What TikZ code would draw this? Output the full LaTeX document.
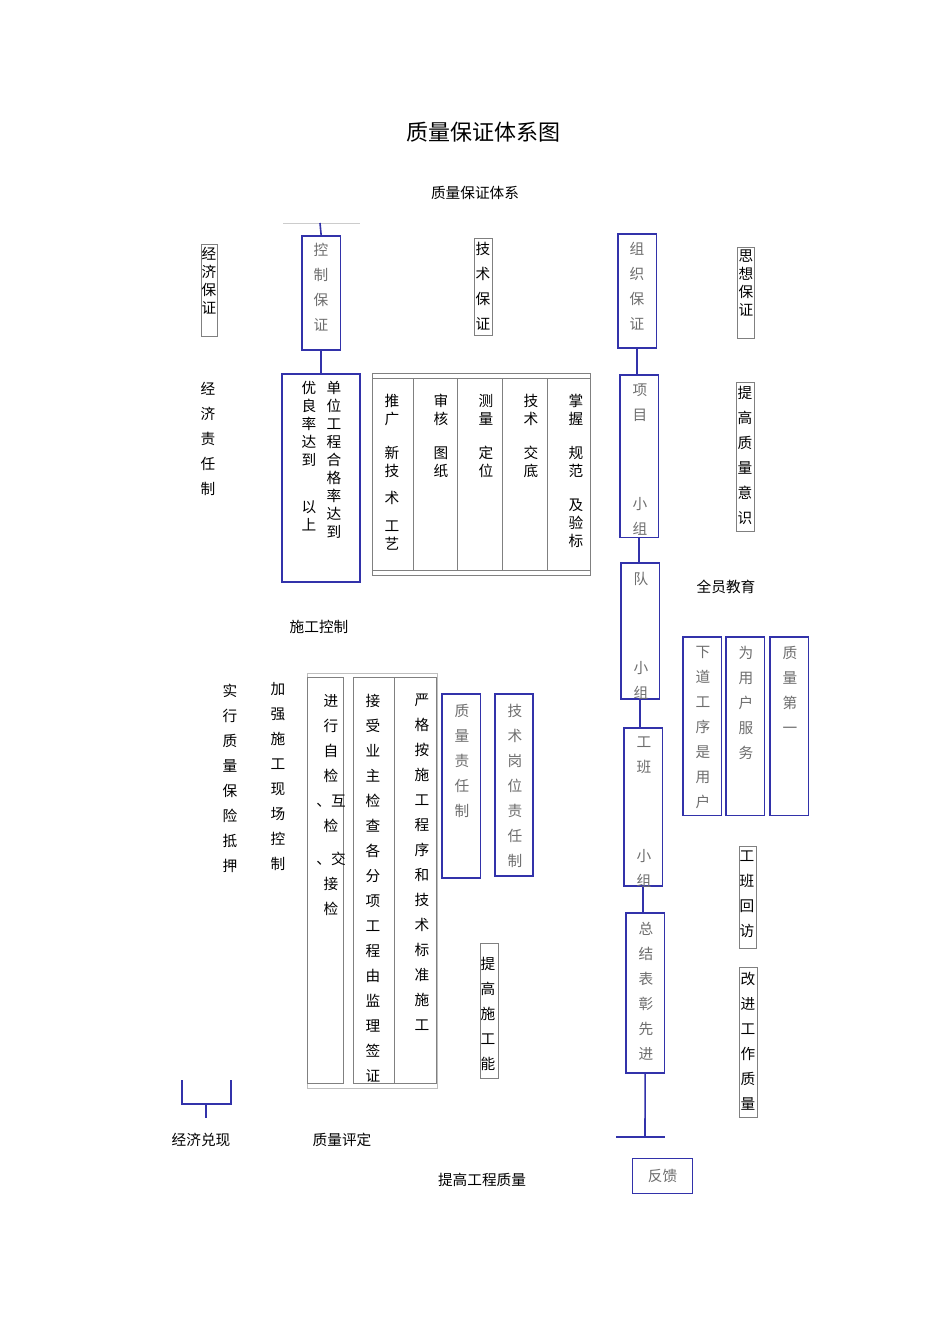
\documentclass[tikz,border=0pt]{standalone}
\usepackage{fontspec}
\setmainfont{Noto Sans CJK SC}
\definecolor{bl}{RGB}{50,50,170}
\definecolor{gt}{RGB}{110,110,110}
\begin{document}
\begin{tikzpicture}[x=0.75pt,y=-0.75pt,
  bbox/.style={draw=bl,line width=1.2pt,anchor=north west,inner sep=0pt},
  kbox/.style={draw=gray,line width=0.6pt,anchor=north west,inner sep=0pt},
  vt/.style={align=center,inner sep=0pt,anchor=north,font=\fontsize{11}{18.75}\selectfont},
  vtt/.style={align=center,inner sep=0pt,anchor=north,font=\fontsize{11}{13.5}\selectfont},
  gv/.style={vt,text=gt},
  lab/.style={inner sep=0pt,font=\fontsize{11}{13}\selectfont},
  ln/.style={draw=bl,line width=1.2pt}]
\fill[white] (0,0) rectangle (950,1344);
\node[lab,font=\fontsize{16.5}{20}\selectfont] (title) at (483,132) {质量保证体系图};
\node[lab] (sub) at (475,193) {质量保证体系};
% left top
\draw[gray!40,line width=0.5pt] (283,223) -- (360,223);
\coordinate (top) at (320,223);
\node[kbox,minimum width=16pt*0.75/0.75*0.75,minimum height=69pt] (jjbz) at (201,244) {};
\node[vtt] at (209,247) {经\\济\\保\\证};
\node[bbox,minimum width=29pt,minimum height=85.5pt] (kzbz) at (301,235) {};
\node[gv] at (321,243) {控\\制\\保\\证};
\draw[ln] (top) -- (kzbz.north);
\node[bbox,minimum width=58.5pt,minimum height=156pt] (dw) at (281,373) {};
\draw[ln] (kzbz.south) -- (dw.north -| kzbz.south);
\node[vtt] at (334,381) {单\\位\\工\\程\\合\\格\\率\\达\\到};
\node[vtt] at (309,381) {优\\良\\率\\达\\到\\[22pt]以\\上};
\node[kbox,minimum width=13.5pt,minimum height=73pt] (jsbz) at (474,238) {};
\node[vt] at (483,242) {技\\术\\保\\证};
% tech table
\node[kbox,minimum width=163.5pt,minimum height=151.5pt] (tt) at (372,373) {};
\draw[gray,line width=0.6pt] (372,378) -- (590,378) (372,570) -- (590,570);
\foreach \x in {413,457,502,547} \draw[gray,line width=0.6pt] (\x,378) -- (\x,570);
\node[vtt] at (392,394) {推\\广\\[12pt]新\\技\\[7pt]术\\[7pt]工\\艺};
\node[vtt] at (441,394) {审\\核\\[12pt]图\\纸};
\node[vtt] at (486,394) {测\\量\\[12pt]定\\位};
\node[vtt] at (531,394) {技\\术\\[12pt]交\\底};
\node[vtt] at (576,394) {掌\\握\\[12pt]规\\范\\[12pt]及\\验\\标};
\node[vt] (jjzr) at (208,382) {经\\济\\责\\任\\制};
% right chain
\node[bbox,minimum width=29pt,minimum height=85.5pt] (zz) at (617,233) {};
\node[gv] at (637,242) {组\\织\\保\\证};
\node[bbox,minimum width=29pt,minimum height=122pt] (xm) at (619,374) {};
\node[gv] at (640,384) {项\\目\\[48pt]小\\组};
\node[bbox,minimum width=29pt,minimum height=102pt] (dui) at (620,562) {};
\node[gv] at (641,572) {队\\[48pt]小\\组};
\node[bbox,minimum width=29pt,minimum height=118.5pt] (gb) at (623,727) {};
\node[gv] at (644,737) {工\\班\\[48pt]小\\组};
\node[bbox,minimum width=29pt,minimum height=120pt] (zj) at (625,912) {};
\node[gv] at (646,922) {总\\结\\表\\彰\\先\\进};
\draw[ln] (zz.south) -- (zz.south |- xm.north);
\draw[ln] (xm.south) -- (xm.south |- dui.north);
\draw[ln] (dui.south) -- (dui.south |- gb.north);
\draw[ln] (gb.south) -- (gb.south |- zj.north);
\coordinate (fb0) at (645,1137);
\draw[ln] (zj.south) -- (fb0);
\draw[ln] (616,1137) -- (665,1137);
\node[bbox,minimum width=45pt,minimum height=26pt,line width=0.9pt] (fk) at (632,1158) {};
\node[lab,text=gt] at (fk.center) {反馈};
\node[kbox,minimum width=13pt,minimum height=68pt] (sx) at (737,247) {};
\node[vtt] at (746,250) {思\\想\\保\\证};
\node[kbox,minimum width=13.5pt,minimum height=112pt] (tg) at (736,382) {};
\node[vt] at (745,386) {提\\高\\质\\量\\意\\识};
\node[lab] (qy) at (726,587) {全员教育};
\node[bbox,minimum width=29pt,minimum height=134pt] (xd) at (682,636) {};
\node[gv] at (703,646) {下\\道\\工\\序\\是\\用\\户};
\node[bbox,minimum width=29pt,minimum height=134pt] (wy) at (725,636) {};
\node[gv] at (746,646) {为\\用\\户\\服\\务};
\node[bbox,minimum width=29pt,minimum height=134pt] (zl1) at (769,636) {};
\node[gv] at (790,646) {质\\量\\第\\一};
\node[kbox,minimum width=13pt,minimum height=76.5pt] (gbhf) at (739,846) {};
\node[vt] at (747,851) {工\\班\\回\\访};
\node[kbox,minimum width=13.5pt,minimum height=112.5pt] (gj) at (739,967) {};
\node[vt] at (748,972) {改\\进\\工\\作\\质\\量};
% lower left
\node[lab] (sgkz) at (319,627) {施工控制};
\node[vt] (sx2) at (230,684) {实\\行\\质\\量\\保\\险\\抵\\押};
\node[vt] (jq) at (278,682) {加\\强\\施\\工\\现\\场\\控\\制};
\node[kbox,draw=gray!50,minimum width=97.5pt,minimum height=311pt] (bt) at (307,673) {};
\node[kbox,minimum width=27pt,minimum height=304.5pt] (c1) at (307,677) {};
\node[kbox,minimum width=62pt,minimum height=304.5pt] (c2) at (353,677) {};
\draw[gray,line width=0.6pt] (394,677) -- (394,1083);
\node[vt] at (331,694) {进\\行\\自\\检\\、互\\检\\[6pt]、交\\接\\检};
\node[vt] at (373,694) {接\\受\\业\\主\\检\\查\\各\\分\\项\\工\\程\\由\\监\\理\\签\\证};
\node[vt] at (422,694) {严\\格\\按\\施\\工\\程\\序\\和\\技\\术\\标\\准\\施\\工};
\node[bbox,minimum width=29pt,minimum height=138pt] (zlzr) at (441,693) {};
\node[gv] at (462,704) {质\\量\\责\\任\\制};
\node[bbox,minimum width=28.5pt,minimum height=136.5pt] (jsgw) at (494,693) {};
\node[gv] at (515,704) {技\\术\\岗\\位\\责\\任\\制};
\node[kbox,minimum width=13.5pt,minimum height=101pt] (tgsg) at (480,943) {};
\node[vt] at (488,957) {提\\高\\施\\工\\能};
% bracket
\coordinate (b1) at (182,1080); \coordinate (b2) at (231,1080); \coordinate (bs) at (206,1118);
\draw[ln,line width=0.9pt] (b1) -- (182,1104) -- (231,1104) -- (b2);
\draw[ln,line width=0.9pt] (206,1104) -- (bs);
\node[lab] (jjdx) at (201,1140) {经济兑现};
\node[lab] (zlpd) at (342,1140) {质量评定};
\node[lab] (tggc) at (482,1180) {提高工程质量};
\end{tikzpicture}
\end{document}
